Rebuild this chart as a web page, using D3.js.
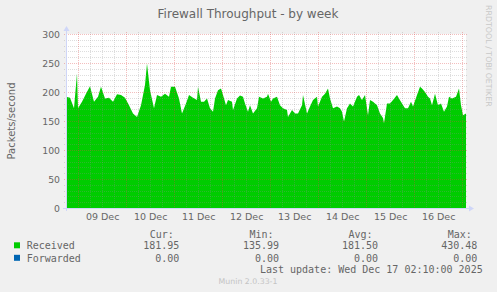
<!DOCTYPE html>
<html>
<head>
<meta charset="utf-8">
<script src="https://cdn.jsdelivr.net/npm/d3@7"></script>
<style>
  body { margin: 0; background: #f0f0f0; }
  text { font-family: "DejaVu Sans", sans-serif; fill: #666; }
  .mono { font-family: "DejaVu Sans Mono", monospace; font-size: 10px; }
</style>
</head>
<body>
<svg id="chart" width="497" height="292"></svg>
<script>
const chartTitle = "Firewall Throughput - by week";
const yLabel = "Packets/second";
const startTime = new Date(2025, 11, 8, 18, 10);
const endTime = new Date(2025, 11, 17, 2, 10);

// hours since startTime, and packets/s
const sampleHours = [
  0, 2, 4, 5.5, 6, 8, 10, 12, 14, 16,
  17.5, 19.5, 21.5, 23.5, 25.5, 27.5, 29.5, 31.5, 33.5, 35.5,
  37.5, 39.5, 40.5, 42, 44, 45.5, 47.5, 49.5, 51.5, 52.5,
  54.5, 56.5, 58, 60, 61.5, 63.5, 65.5, 66, 67.5, 69,
  70.5, 72, 73.5, 74.5, 76, 77.5, 78.5, 80, 81, 83,
  83.5, 85.5, 87, 88.5, 89.5, 91, 92, 93.5, 95.5, 96.5,
  98.5, 100.5, 101, 102.5, 103.5, 105.5, 107, 108.5, 110.5, 111,
  113, 114.5, 116, 118, 118.5, 120.5, 122, 123.5, 125.5, 126,
  128, 129.5, 131, 132, 133.5, 135.5, 137, 138, 139, 140.5,
  142, 143.5, 145.5, 146.5, 148, 149.5, 151, 152, 153.5, 155.5,
  157, 158.5, 159, 160.5, 162, 163.5, 165.5, 166.5, 168, 169.5,
  171, 172.5, 173.5, 175.5, 177, 178, 179.5, 181, 182, 183,
  184.5, 186, 187.5, 189, 190.5, 191.5, 193, 195, 196.5, 197.5,
  198.5, 200
];
const received = [
  192, 190, 172, 232, 172, 183, 197, 210, 183, 192,
  209, 189, 190, 183, 196, 195, 190, 177, 163, 157,
  177, 212, 249, 203, 172, 195, 192, 197, 192, 209,
  209, 189, 163, 180, 195, 190, 186, 209, 183, 183,
  189, 172, 166, 189, 203, 206, 195, 177, 186, 183,
  169, 189, 194, 192, 180, 166, 177, 163, 172, 192,
  189, 192, 197, 183, 189, 192, 177, 172, 169, 157,
  169, 163, 163, 177, 195, 163, 175, 186, 192, 175,
  192, 197, 206, 189, 172, 175, 172, 166, 149, 172,
  180, 175, 192, 195, 186, 195, 160, 186, 183, 177,
  163, 155, 146, 180, 180, 186, 195, 189, 180, 172,
  172, 183, 175, 195, 209, 206, 200, 192, 189, 177,
  197, 177, 180, 166, 175, 192, 189, 192, 206, 177,
  160, 163
];

const yTicks = [0, 50, 100, 150, 200, 250, 300];
const seriesNames = ["Received", "Forwarded"];
const seriesColors = ["#00cc00", "#0066b3"];
const statHeads = ["Cur:", "Min:", "Avg:", "Max:"];
const receivedStats = ["181.95", "135.99", "181.50", "430.48"];
const forwardedStats = ["0.00", "0.00", "0.00", "0.00"];
const lastUpdate = "Last update: Wed Dec 17 02:10:00 2025";
const footer = "Munin 2.0.33-1";
const watermark = "RRDTOOL / TOBI OETIKER";

const svg = d3.select("#chart");
const pLeft = 66, pRight = 466, pTop = 34, pBottom = 208;

const x = d3.scaleTime().domain([startTime, endTime]).range([pLeft, pRight]);
const y = d3.scaleLinear().domain([0, 300]).range([pBottom, pTop]);

svg.append("rect").attr("width", 497).attr("height", 292).attr("fill", "#f0f0f0");
svg.append("rect")
   .attr("x", pLeft).attr("y", pTop)
   .attr("width", pRight - pLeft).attr("height", pBottom - pTop)
   .attr("fill", "#ffffff");

let points = sampleHours.map((h, i) => ({t: new Date(+startTime + h * 3600e3), v: received[i]}));

let area = d3.area()
    .x(d => x(d.t))
    .y0(y(0))
    .y1(d => y(d.v));

svg.append("path")
   .datum(points)
   .attr("d", area)
   .attr("fill", seriesColors[0]);

// grid
const minorCol = "rgba(143,143,143,0.3)", majorCol = "rgba(222,70,70,0.35)";
let g = svg.append("g").attr("shape-rendering", "crispEdges");
let minorY = d3.range(0, 301, 10).filter(v => v % 50 != 0);
g.selectAll(".hminor").data(minorY).enter().append("line")
  .attr("x1", pLeft - 2).attr("x2", pRight + 2)
  .attr("y1", d => Math.round(y(d)) + 0.5).attr("y2", d => Math.round(y(d)) + 0.5)
  .attr("stroke", minorCol).attr("stroke-dasharray", "1,1");

let sixHours = d3.timeHour.every(6).range(startTime, endTime).filter(d => d.getHours() != 0);
g.selectAll(".vminor").data(sixHours).enter().append("line")
  .attr("x1", d => Math.round(x(d)) + 0.5).attr("x2", d => Math.round(x(d)) + 0.5)
  .attr("y1", pTop - 2).attr("y2", pBottom + 2)
  .attr("stroke", minorCol).attr("stroke-dasharray", "1,1");

g.selectAll(".hmajor").data(yTicks).enter().append("line")
  .attr("x1", pLeft - 2).attr("x2", pRight + 2)
  .attr("y1", d => Math.round(y(d)) + 0.5).attr("y2", d => Math.round(y(d)) + 0.5)
  .attr("stroke", majorCol).attr("stroke-dasharray", "1,1");

let days = d3.timeDay.range(startTime, endTime);
g.selectAll(".vmajor").data(days).enter().append("line")
  .attr("x1", d => Math.round(x(d)) + 0.5).attr("x2", d => Math.round(x(d)) + 0.5)
  .attr("y1", pTop - 2).attr("y2", pBottom + 2)
  .attr("stroke", majorCol).attr("stroke-dasharray", "1,1");

// axes
const axisColor = "#cfd6f8";
svg.append("line").attr("x1", pLeft - 3).attr("x2", pRight + 4)
   .attr("y1", pBottom + 0.5).attr("y2", pBottom + 0.5)
   .attr("stroke", axisColor).attr("shape-rendering", "crispEdges");
svg.append("line").attr("x1", pLeft + 0.5).attr("x2", pLeft + 0.5)
   .attr("y1", pBottom + 3).attr("y2", pTop - 4)
   .attr("stroke", axisColor).attr("shape-rendering", "crispEdges");
svg.append("path").attr("d", `M${pRight + 8},${pBottom + 0.5}L${pRight + 3},${pBottom - 2.5}L${pRight + 3},${pBottom + 3.5}Z`)
   .attr("fill", axisColor);
svg.append("path").attr("d", `M${pLeft + 0.5},${pTop - 8}L${pLeft - 2.5},${pTop - 3}L${pLeft + 3.5},${pTop - 3}Z`)
   .attr("fill", axisColor);

// y tick labels
svg.selectAll(".ylab").data(yTicks).enter().append("text")
   .attr("x", 60).attr("y", d => y(d) + 3.5)
   .attr("text-anchor", "end").attr("font-size", 9.3)
   .text(d => d);

// x labels at noon of each day
let noons = days.slice(0, -1).map(d => d3.timeHour.offset(d, 12));
svg.selectAll(".xlab").data(noons).enter().append("text")
   .attr("x", d => x(d) + 1).attr("y", 219.5)
   .attr("text-anchor", "middle").attr("font-size", 9.5)
   .text(d3.timeFormat("%d %b"));

svg.append("text").attr("x", 248).attr("y", 18)
   .attr("text-anchor", "middle").attr("font-size", 12)
   .text(chartTitle);

svg.append("text")
   .attr("transform", `translate(14.5,${(pTop + pBottom) / 2}) rotate(-90)`)
   .attr("text-anchor", "middle").attr("font-size", 10)
   .text(yLabel);

svg.append("text")
   .attr("transform", "translate(485.5,5) rotate(90)")
   .attr("font-size", 7.9).style("fill", "#c8c8c8")
   .text(watermark);

// legend
let rowsY = [249, 261.5];
let statRight = [179.3, 279, 378, 477.3];
svg.selectAll(".lhead").data(statHeads).enter().append("text")
   .attr("class", "mono").attr("x", (d, i) => statRight[i] - 29.5).attr("y", 237.5)
   .text(d => d);
svg.selectAll(".lbox").data(seriesColors).enter().append("rect")
   .attr("x", 14).attr("y", (d, i) => rowsY[i] - 6.7)
   .attr("width", 6).attr("height", 6).attr("fill", d => d);
svg.selectAll(".lname").data(seriesNames).enter().append("text")
   .attr("class", "mono").attr("x", 26.7).attr("y", (d, i) => rowsY[i])
   .text(d => d);
[receivedStats, forwardedStats].forEach((vals, r) => {
  svg.selectAll(".lval" + r).data(vals).enter().append("text")
     .attr("class", "mono").attr("x", (d, i) => statRight[i]).attr("y", rowsY[r])
     .attr("text-anchor", "end")
     .text(d => d);
});
svg.append("text").attr("class", "mono")
   .attr("x", 482.7).attr("y", 273).attr("text-anchor", "end")
   .text(lastUpdate);
svg.append("text")
   .attr("x", 248).attr("y", 284).attr("text-anchor", "middle")
   .attr("font-size", 7.8).style("fill", "#c4c4c4")
   .text(footer);
</script>
</body>
</html>
